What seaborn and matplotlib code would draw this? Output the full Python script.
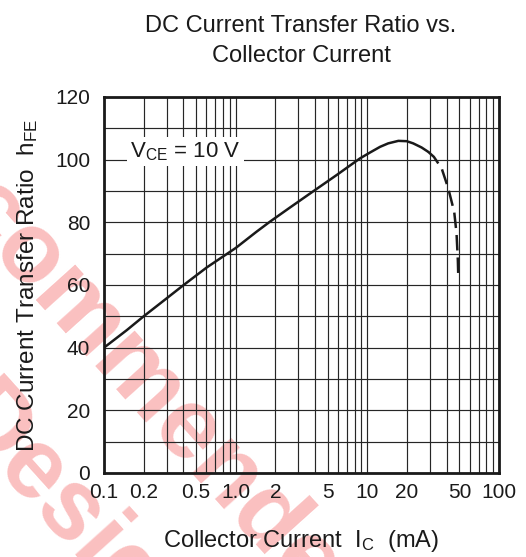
import matplotlib
matplotlib.use("Agg")
import matplotlib.pyplot as plt
import seaborn as sns
import pandas as pd
from matplotlib.ticker import FixedLocator, NullFormatter

# ---- data ----
ic_solid = [0.1, 0.149, 0.2, 0.282, 0.4, 0.603, 1.0, 1.44, 1.82, 2.58, 3.88, 5.85,
            8.79, 10.5, 12.5, 14.4, 17.2, 19.9, 22.3, 25.8, 29.0]
hfe_solid = [40, 45.6, 50, 54.9, 59.9, 65.6, 71.8, 77.0, 80.2, 84.7, 89.9, 95.1,
             100.4, 102.3, 104.1, 105.2, 106.0, 105.9, 105.2, 103.9, 102.5]
ic_dash = [29.0, 32.0, 36.7, 41.2, 45.7, 47.6, 48.7, 49.0]
hfe_dash = [102.5, 100.9, 97.2, 90.8, 83.3, 76.4, 67.8, 63.6]

xtick_vals = [0.1, 0.2, 0.5, 1.0, 2, 5, 10, 20, 50, 100]
xtick_labels = ["0.1", "0.2", "0.5", "1.0", "2", "5", "10", "20", "50", "100"]
ytick_vals = [0, 20, 40, 60, 80, 100, 120]

title1 = "DC Current Transfer Ratio vs."
title2 = "Collector Current"
xlabel = "Collector Current  I$_{\\mathregular{C}}$  (mA)"
ylabel = "DC Current Transfer Ratio  h$_{\\mathregular{FE}}$"
annot = "V$_{\\mathregular{CE}}$ = 10 V"
watermark1 = "Recommended"
watermark2 = "Design"

sns.set_style("white")
plt.rcParams["font.family"] = ["Liberation Sans", "DejaVu Sans"]
plt.rcParams["mathtext.default"] = "regular"

W, H = 526, 557
fig = plt.figure(figsize=(W / 100, H / 100), dpi=100)
ink = "#1a1a1a"

# watermark (behind everything)
wm_color = (0.96, 0.45, 0.45, 0.45)
fig.text(-135 / W, 1 - 118 / H, watermark1, rotation=-48, rotation_mode="anchor",
         ha="left", va="baseline", fontsize=72, fontweight="bold", color=wm_color, zorder=-1)
fig.text(-55 / W, 1 - 418 / H, watermark2, rotation=-48, rotation_mode="anchor",
         ha="left", va="baseline", fontsize=72, fontweight="bold", color=wm_color, zorder=-1)

ax = fig.add_axes([104 / W, 1 - 473 / H, (499 - 104) / W, (473 - 97) / H])
ax.patch.set_alpha(0)

df_s = pd.DataFrame({"ic": ic_solid, "hfe": hfe_solid})
df_d = pd.DataFrame({"ic": ic_dash, "hfe": hfe_dash})
sns.lineplot(data=df_s, x="ic", y="hfe", ax=ax, color=ink, lw=1.8,
             estimator=None, sort=False, zorder=5)
sns.lineplot(data=df_d, x="ic", y="hfe", ax=ax, color=ink, lw=1.8,
             estimator=None, sort=False, zorder=5, linestyle=(0, (6.2, 2.8)))

ax.set_xscale("log")
ax.set_xlim(0.1, 100)
ax.set_ylim(0, 120)

ax.xaxis.set_major_locator(FixedLocator(xtick_vals))
ax.set_xticklabels(xtick_labels)
minor_x = [m * 10.0 ** d for d in (-1, 0, 1) for m in range(1, 10)]
minor_x = [v for v in minor_x if v not in xtick_vals]
ax.xaxis.set_minor_locator(FixedLocator(minor_x))
ax.xaxis.set_minor_formatter(NullFormatter())
ax.set_yticks(ytick_vals)
ax.yaxis.set_minor_locator(FixedLocator(list(range(10, 120, 20))))

ax.grid(True, which="both", color="#262626", lw=0.85)
ax.tick_params(axis="both", which="both", length=0, labelsize=15, colors=ink)
ax.tick_params(axis="x", pad=7)
ax.tick_params(axis="y", pad=10)
for s in ax.spines.values():
    s.set_visible(True)
    s.set_color(ink)
    s.set_linewidth(2.0)
ax.set_axisbelow(True)

ax.text(0.1575, 102.7, annot, fontsize=16, color=ink, va="center", ha="left",
        zorder=4, bbox=dict(boxstyle="square,pad=0.15", fc="white", ec="none"))

ax.set_xlabel("")
ax.set_ylabel("")
fig.text(301 / W, 1 - 547 / H, xlabel, fontsize=17, ha="center", va="baseline", color=ink)
fig.text(28 / W, 1 - 285 / H, ylabel, fontsize=17.5, ha="center", va="center",
         rotation=90, color=ink)
fig.text(301 / W, 1 - 32 / H, title1, fontsize=17, ha="center", va="baseline", color=ink)
fig.text(301 / W, 1 - 62 / H, title2, fontsize=17, ha="center", va="baseline", color=ink)

fig.savefig("out.png", dpi=100)
